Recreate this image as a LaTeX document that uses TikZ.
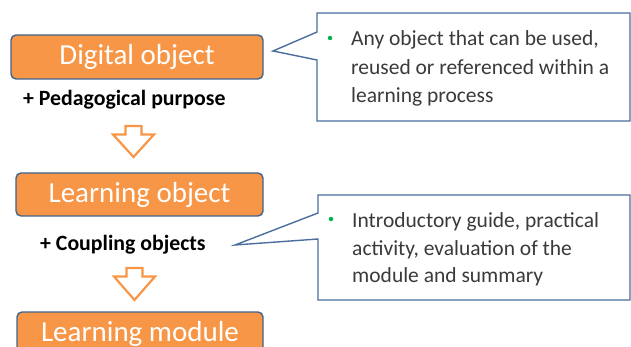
\documentclass[tikz,border=0pt]{standalone}
\usepackage{fontspec}
\setmainfont{Carlito}
\definecolor{boxorange}{HTML}{F79646}
\definecolor{boxblue}{HTML}{41648F}
\definecolor{callblue}{HTML}{4A6E9E}
\definecolor{bulletgreen}{HTML}{00B050}
\definecolor{calltext}{HTML}{3A3A3A}
\tikzset{
  objbox/.style={draw=boxblue, line width=1.4pt, fill=boxorange, rounded corners=5pt,
    inner sep=0pt, text=white, font=\fontsize{29}{30}\selectfont},
  plusl/.style={anchor=west, inner sep=0pt, font=\bfseries\fontsize{21.8}{24}\selectfont},
  ctext/.style={anchor=base west, inner sep=0pt, text=calltext, font=\fontsize{21.5}{24}\selectfont},
  callout/.style={draw=callblue, line width=1.4pt, fill=white, line join=miter},
  bulletdot/.style={circle, fill=bulletgreen, inner sep=0pt, minimum size=4.5pt},
  downarrow/.pic={\draw[draw=boxorange, line width=2.2pt, fill=white, line join=miter]
     (-8,0) -- (8,0) -- (8,8.5) -- (20.5,8.5) -- (0,#1) -- (-20.5,8.5) -- (-8,8.5) -- cycle;},
}
\begin{document}
\begin{tikzpicture}[x=1pt,y=-1pt]
\useasboundingbox (0,0) rectangle (631,347);
\clip (0,0) rectangle (631,347);

% orange boxes
\node[objbox, minimum width=252pt, minimum height=44pt] (dig) at (137,57) {Digital object};
\node[objbox, minimum width=247pt, minimum height=43pt] (lob) at (139.5,194.5) {Learning object};
\node[objbox, minimum width=246pt, minimum height=44pt] (lmod) at (140,334) {Learning module};

% labels
\node[plusl] (ped) at (23,100) {+ Pedagogical purpose};
\node[plusl] (coup) at (40,245) {+ Coupling objects};

% hollow arrows
\pic at (133.5,126) {downarrow={31}};
\pic at (134.5,268) {downarrow={32}};

% callout 1
\coordinate (tipA) at (273,51);
\draw[callout] (317,13) -- (630,13) -- (630,121) -- (317,121) -- (317,60) -- (tipA) -- (317,32) -- cycle;
\node[bulletdot] (b1) at (330,38) {};
\node[ctext] (a1) at (351,46) {Any object that can be used,};
\node[ctext] (a2) at (351,75) {reused or referenced within a};
\node[ctext] (a3) at (351,103) {learning process};

% callout 2
\coordinate (tipB) at (235,245);
\draw[callout] (318,195) -- (630,195) -- (630,300) -- (318,300) -- (318,239) -- (tipB) -- (318,213) -- cycle;
\node[bulletdot] (b2) at (331,219) {};
\node[ctext] (c1) at (352,227) {Introductory guide, practical};
\node[ctext] (c2) at (352,255) {activity, evaluation of the};
\node[ctext] (c3) at (352,282) {module and summary};
\end{tikzpicture}
\end{document}
